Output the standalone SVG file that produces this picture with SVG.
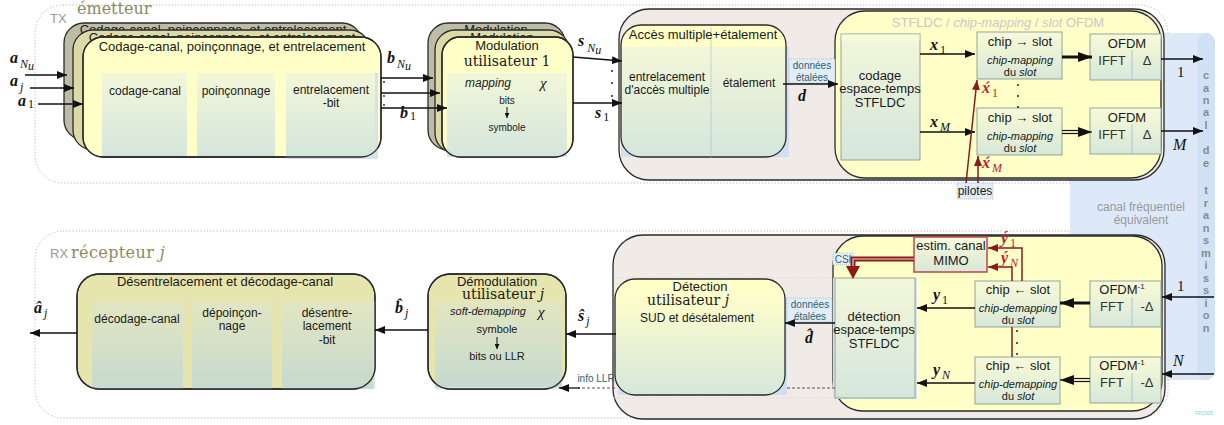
<svg xmlns="http://www.w3.org/2000/svg" width="1224" height="425" viewBox="0 0 1224 425">
<defs>
<style>
.t{font-family:"Liberation Sans",Arial,sans-serif;fill:#1a1a1a;text-anchor:middle}
.f13{font-size:13px}.f12{font-size:12px}.f11{font-size:11px}.f10{font-size:10px}
.i{font-style:italic}
.ser{font-family:"DejaVu Serif",serif;fill:#1a1a1a;text-anchor:middle;font-size:14px}
.mv{font-family:"Liberation Serif",serif;font-style:italic;font-weight:bold;font-size:16px;fill:#111}
.ms{font-family:"Liberation Serif",serif;font-style:italic;font-size:12px;font-weight:normal}
.mn{font-family:"Liberation Serif",serif;font-style:normal;font-size:12px;font-weight:normal}
.red{fill:#c0202a}
.zone{fill:none;stroke:#b8b8b8;stroke-width:1;stroke-dasharray:1.2 2}
.box{stroke:#2a2a2a;stroke-width:1.3}
.yel{fill:#ffffc8}.tan{fill:#dcdaa6}.gry{fill:#bdbca6}.tanr{fill:#e7e5ae}
.pan{fill:url(#pg)}.panr{fill:url(#rg)}
.sub{stroke:#93a596;stroke-width:1}
.ln{fill:none;stroke:#111;stroke-width:1.3}
.rl{fill:none;stroke:#8b1a1a;stroke-width:1.5}
.tag{fill:#e2edf8;stroke:#9fb6cc;stroke-width:0.8;stroke-dasharray:1 1}
.teal{fill:#2a6670}
.dot{fill:#222}
.div{stroke:#a8c4dc;stroke-width:1}
.bt{font-family:"Liberation Sans",Arial,sans-serif;font-weight:bold;font-size:11px;fill:#8a8a8a;text-anchor:middle}
.lbl{font-family:"DejaVu Serif",serif;font-size:16px;fill:#8a8a5e}
</style>
<linearGradient id="pg" x1="0" y1="0" x2="0" y2="1"><stop offset="0" stop-color="#f3f7d9"/><stop offset="1" stop-color="#d4e6dc"/></linearGradient>
<linearGradient id="rg" x1="0" y1="0" x2="0" y2="1"><stop offset="0" stop-color="#e2e6c1"/><stop offset="1" stop-color="#c6dacf"/></linearGradient>
<linearGradient id="ag" x1="0" y1="0" x2="0" y2="1"><stop offset="0" stop-color="#ffffc8"/><stop offset="0.16" stop-color="#ffffc8"/><stop offset="0.17" stop-color="#f3f7d7"/><stop offset="1" stop-color="#d4e6dc"/></linearGradient>
<linearGradient id="dg" x1="0" y1="0" x2="0" y2="1"><stop offset="0" stop-color="#ffffc8"/><stop offset="0.2" stop-color="#fbfccb"/><stop offset="1" stop-color="#d6e7dc"/></linearGradient>
<linearGradient id="cg" x1="0" y1="0" x2="0" y2="1"><stop offset="0" stop-color="#f7fadc"/><stop offset="0.3" stop-color="#eff5d6"/><stop offset="1" stop-color="#d6e7db"/></linearGradient>
<marker id="ah" markerWidth="10" markerHeight="8" refX="10" refY="4" orient="auto" markerUnits="userSpaceOnUse"><path d="M0,0 L10,4 L0,8 Z" fill="#111"/></marker>
<marker id="ahb" markerWidth="14" markerHeight="10" refX="14" refY="5" orient="auto" markerUnits="userSpaceOnUse"><path d="M0,0 L14,5 L0,10 Z" fill="#111"/></marker>
<marker id="ahs" markerWidth="5" markerHeight="5" refX="5" refY="2.5" orient="auto" markerUnits="userSpaceOnUse"><path d="M0,0 L5,2.5 L0,5 Z" fill="#111"/></marker>
<marker id="ahr" markerWidth="10" markerHeight="8" refX="10" refY="4" orient="auto" markerUnits="userSpaceOnUse"><path d="M0,0 L10,4 L0,8 Z" fill="#8b1a1a"/></marker>
</defs>
<rect width="1224" height="425" fill="#ffffff"/>

<!-- zones -->
<g id="zone-tx">
<rect class="zone" x="35" y="5" width="1133" height="178" rx="28"/>
<text class="t f13" x="50" y="23" style="text-anchor:start;fill:#999">TX</text>
<text class="lbl" x="77" y="14">émetteur</text>
</g>
<g id="zone-rx">
<rect class="zone" x="35" y="231" width="1133" height="187" rx="28"/>
<text class="t f13" x="50" y="258" style="text-anchor:start;fill:#999">RX</text>
<text class="lbl" x="71" y="258" style="letter-spacing:0.4px">récepteur <tspan font-style="italic">j</tspan></text>
</g>

<!-- channel -->
<g id="canal">
<rect x="1070" y="33" width="140" height="347" fill="#dde9f9"/>
<rect x="1197" y="33" width="18" height="347" rx="9" fill="#d2e2f6"/>
<text class="t f12" x="1141" y="211" style="fill:#999">canal fréquentiel</text>
<text class="t f12" x="1141" y="224" style="fill:#999">équivalent</text>
<text class="bt" x="1206" y="79">c</text><text class="bt" x="1206" y="92">a</text><text class="bt" x="1206" y="104">n</text><text class="bt" x="1206" y="116">a</text><text class="bt" x="1206" y="129">l</text>
<text class="bt" x="1206" y="154">d</text><text class="bt" x="1206" y="167">e</text>
<text class="bt" x="1206" y="194">t</text><text class="bt" x="1206" y="207">r</text><text class="bt" x="1206" y="219">a</text><text class="bt" x="1206" y="232">n</text><text class="bt" x="1206" y="244">s</text><text class="bt" x="1206" y="257">m</text><text class="bt" x="1206" y="269">i</text><text class="bt" x="1206" y="282">s</text><text class="bt" x="1206" y="294">s</text><text class="bt" x="1206" y="307">i</text><text class="bt" x="1206" y="319">o</text><text class="bt" x="1206" y="332">n</text>
</g>

<!-- TX: codage stack -->
<g id="codage-canal-tx">
<rect class="box gry" x="64" y="23" width="298" height="117" rx="20"/>
<text class="t f13" x="213" y="34">Codage-canal, poinçonnage, et entrelacement</text>
<rect class="box tan" x="73" y="30" width="297" height="120" rx="20"/>
<text class="t f13" x="222" y="42">Codage-canal, poinçonnage, et entrelacement</text>
<rect class="box yel" x="83" y="37" width="298" height="120" rx="20"/>
<text class="t f13" x="232" y="51">Codage-canal, poinçonnage, et entrelacement</text>
<rect x="286" y="73" width="92" height="86" fill="#d3e3f1"/>
<rect class="pan" x="102" y="73" width="85" height="83"/>
<rect class="pan" x="197" y="73" width="78" height="83"/>
<rect class="pan" x="286" y="73" width="89" height="83"/>
<rect class="box" x="83" y="37" width="298" height="120" rx="20" fill="none"/>
<text class="t f12" x="145" y="95">codage-canal</text>
<text class="t f12" x="236" y="95">poinçonnage</text>
<text class="t f12" x="331" y="94">entrelacement</text>
<text class="t f12" x="331" y="107">-bit</text>
</g>

<!-- TX: modulation stack -->
<g id="modulation">
<rect class="box gry" x="428" y="23" width="137" height="127" rx="20"/>
<text class="t f13" x="496" y="34">Modulation</text>
<rect class="box tan" x="435" y="30" width="134" height="123" rx="20"/>
<text class="t f13" x="502" y="42">Modulation</text>
<rect class="box yel" x="442" y="37" width="131" height="120" rx="18"/>
<rect x="447" y="73" width="120" height="84" fill="#d3e3f1"/>
<rect class="pan" x="447" y="73" width="120" height="82"/>
<rect class="box" x="442" y="37" width="131" height="120" rx="18" fill="none"/>
<text class="t f13" x="507" y="50">Modulation</text>
<text class="ser" x="507" y="66">utilisateur 1</text>
<text class="t f12 i" x="488" y="87">mapping</text>
<text x="540" y="88" style="font-family:'Liberation Serif',serif;font-style:italic;font-size:15px;fill:#111">χ</text>
<text class="t f10" x="507" y="104">bits</text>
<line x1="507" y1="107" x2="507" y2="118" stroke="#111" stroke-width="1" marker-end="url(#ahs)"/>
<text class="t f10" x="507" y="131">symbole</text>
</g>

<!-- TX: accès group -->
<g id="acces-multiple">
<rect class="box" x="619" y="9" width="545" height="171" rx="30" fill="#f0ebe7"/>
<rect x="621" y="47" width="168" height="110" fill="#d0e0f0"/>
<rect class="box" x="621" y="25" width="165" height="132" rx="20" fill="url(#ag)"/>
<line x1="711" y1="28" x2="711" y2="158" stroke="#9ab2cc" stroke-width="1" stroke-dasharray="1.2 1.2"/>
<text class="t f13" x="703" y="39">Accès multiple+étalement</text>
<text class="t f12" x="667" y="81">entrelacement</text>
<text class="t f12" x="667" y="94">d'accès multiple</text>
<text class="t f12" x="749" y="87">étalement</text>
</g>

<!-- TX: STFLDC / chip-mapping / slot OFDM -->
<g id="stfldc-tx">
<rect class="box" x="835" y="11" width="326" height="167" rx="30" fill="#ffffc8" stroke-width="1.6"/>
<text class="t f13" x="998" y="27" style="fill:#c8c8c8">STFLDC / <tspan font-style="italic">chip-mapping</tspan> / <tspan font-style="italic">slot</tspan> OFDM</text>
</g>
<g id="codage-stfldc">
<rect class="pan sub" x="841" y="34" width="79" height="126"/>
<rect x="841.5" y="34.5" width="78" height="6" fill="#f8fadc"/>
<text class="t f13" x="880" y="80">codage</text>
<text class="t f13" x="880" y="93">espace-temps</text>
<text class="t f13" x="880" y="107">STFLDC</text>
</g>
<g id="chip-mapping-1">
<rect class="sub" x="977" y="32" width="85" height="47" fill="url(#cg)"/>
<text class="t f13" x="1020" y="46">chip → slot</text>
<text class="t f11 i" x="1020" y="64">chip-mapping</text>
<text class="t f11" x="1020" y="76">du <tspan font-style="italic">slot</tspan></text>
</g>
<g id="chip-mapping-M">
<rect class="sub" x="977" y="108" width="85" height="47" fill="url(#cg)"/>
<text class="t f13" x="1020" y="122">chip → slot</text>
<text class="t f11 i" x="1020" y="140">chip-mapping</text>
<text class="t f11" x="1020" y="152">du <tspan font-style="italic">slot</tspan></text>
</g>
<g id="ofdm-1">
<rect class="sub" x="1090" y="34" width="71" height="46" fill="url(#cg)"/>
<line class="div" x1="1132" y1="50" x2="1132" y2="80"/>
<text class="t f13" x="1127" y="48">OFDM</text>
<text class="t f13" x="1112" y="65" style="fill:#333">IFFT</text>
<text class="t f13" x="1147" y="65" style="fill:#333">Δ</text>
</g>
<g id="ofdm-M">
<rect class="sub" x="1090" y="108" width="71" height="46" fill="url(#cg)"/>
<line class="div" x1="1132" y1="124" x2="1132" y2="154"/>
<text class="t f13" x="1127" y="122">OFDM</text>
<text class="t f13" x="1112" y="139" style="fill:#333">IFFT</text>
<text class="t f13" x="1147" y="139" style="fill:#333">Δ</text>
</g>
<g id="pilotes">
<rect class="tag" x="957" y="183" width="36" height="16"/>
<text class="t f12" x="975" y="195">pilotes</text>
</g>

<!-- RX: désentrelacement -->
<g id="decodage-rx">
<rect class="box tanr" x="77" y="274" width="298" height="115" rx="22"/>
<rect x="282" y="301" width="93" height="88" fill="#d3e3f1"/>
<rect class="panr" x="92" y="301" width="91" height="88"/>
<rect class="panr" x="192" y="301" width="80" height="88"/>
<rect class="panr" x="282" y="301" width="91" height="88"/>
<rect class="box" x="77" y="274" width="298" height="115" rx="22" fill="none"/>
<text class="t f13" x="225" y="286">Désentrelacement et décodage-canal</text>
<text class="t f12" x="137" y="323">décodage-canal</text>
<text class="t f12" x="232" y="317">dépoinçon-</text>
<text class="t f12" x="232" y="330">nage</text>
<text class="t f12" x="327" y="317">désentre-</text>
<text class="t f12" x="327" y="330">lacement</text>
<text class="t f12" x="327" y="344">-bit</text>
</g>

<!-- RX: démodulation -->
<g id="demodulation">
<rect class="box tanr" x="428" y="274" width="138" height="115" rx="22"/>
<rect x="435" y="301" width="127" height="88" fill="#d3e3f1"/>
<rect class="panr" x="435" y="301" width="127" height="86"/>
<rect class="box" x="428" y="274" width="138" height="115" rx="22" fill="none"/>
<text class="t f13" x="497" y="286">Démodulation</text>
<text class="ser" x="503" y="299">utilisateur <tspan font-style="italic">j</tspan></text>
<text class="t f11 i" x="488" y="315">soft-demapping</text>
<text x="538" y="317" style="font-family:'Liberation Serif',serif;font-style:italic;font-size:15px;fill:#111">χ</text>
<text class="t f11" x="497" y="333">symbole</text>
<line x1="497" y1="337" x2="497" y2="349" stroke="#111" stroke-width="1" marker-end="url(#ahs)"/>
<text class="t f11" x="497" y="360">bits ou LLR</text>
</g>

<!-- RX: détection group -->
<g id="detection-mu">
<rect class="box" x="613" y="235" width="552" height="184" rx="30" fill="#f0ebe7"/>
<line x1="614" y1="278" x2="836" y2="278" stroke="#cfcfcf" stroke-width="1" stroke-dasharray="1 2"/>
<line x1="614" y1="398" x2="836" y2="398" stroke="#cfcfcf" stroke-width="1" stroke-dasharray="1 2"/>
<rect x="618" y="297" width="169" height="98" fill="#d0e0f0"/>
<rect class="box" x="615" y="279" width="170" height="116" rx="20" fill="url(#dg)"/>
<text class="t f13" x="700" y="291">Détection</text>
<text class="ser" x="688" y="305">utilisateur <tspan font-style="italic">j</tspan></text>
<text class="t f12" x="697" y="322">SUD et désétalement</text>
</g>
<g id="stfldc-rx">
<rect class="box" x="833" y="236" width="329" height="175" rx="30" fill="#ffffc8" stroke-width="1.6"/>
</g>
<g id="detection-stfldc">
<rect x="833" y="278" width="84" height="121" fill="#d3e3f1"/>
<rect class="pan sub" x="835" y="278" width="80" height="120"/>
<text class="t f13" x="874" y="321">détection</text>
<text class="t f13" x="874" y="334">espace-temps</text>
<text class="t f13" x="874" y="348">STFLDC</text>
</g>
<g id="estim-canal">
<rect x="914" y="237" width="73" height="35" fill="url(#cg)" stroke="#c04848" stroke-width="1.5"/>
<text class="t f13" x="951" y="250">estim. canal</text>
<text class="t f13" x="951" y="265">MIMO</text>
</g>
<g id="chip-demapping-1">
<rect class="sub" x="975" y="281" width="85" height="46" fill="url(#cg)"/>
<text class="t f13" x="1018" y="294">chip ← slot</text>
<text class="t f11 i" x="1018" y="312">chip-demapping</text>
<text class="t f11" x="1018" y="324">du <tspan font-style="italic">slot</tspan></text>
</g>
<g id="chip-demapping-N">
<rect class="sub" x="975" y="357" width="85" height="47" fill="url(#cg)"/>
<text class="t f13" x="1018" y="370">chip ← slot</text>
<text class="t f11 i" x="1018" y="388">chip-demapping</text>
<text class="t f11" x="1018" y="400">du <tspan font-style="italic">slot</tspan></text>
</g>
<g id="ofdm-inv-1">
<rect class="sub" x="1090" y="281" width="71" height="46" fill="url(#cg)"/>
<line class="div" x1="1132" y1="297" x2="1132" y2="327"/>
<text class="t f13" x="1122" y="294">OFDM<tspan font-size="8" dy="-5">-1</tspan></text>
<text class="t f13" x="1112" y="311" style="fill:#333">FFT</text>
<text class="t f13" x="1147" y="311" style="fill:#333">-Δ</text>
</g>
<g id="ofdm-inv-N">
<rect class="sub" x="1090" y="357" width="71" height="46" fill="url(#cg)"/>
<line class="div" x1="1132" y1="373" x2="1132" y2="403"/>
<text class="t f13" x="1122" y="370">OFDM<tspan font-size="8" dy="-5">-1</tspan></text>
<text class="t f13" x="1112" y="387" style="fill:#333">FFT</text>
<text class="t f13" x="1147" y="387" style="fill:#333">-Δ</text>
</g>
<g id="tags">
<rect class="tag" x="789" y="59" width="46" height="24"/>
<text class="t f10 teal" x="812" y="69">données</text>
<text class="t f10 teal" x="812" y="81">étalées</text>
<rect class="tag" x="787" y="298" width="45" height="24"/>
<text class="t f10 teal" x="810" y="308">données</text>
<text class="t f10 teal" x="810" y="320">étalées</text>
<rect class="tag" x="833" y="253" width="20" height="12"/>
<text class="t f10 teal" x="843" y="263">CSI</text>
<text class="t f10 teal" x="596" y="382">info LLR</text>
<text x="1204" y="415" style="font-family:'Liberation Sans',sans-serif;font-size:5px;fill:#5fd8e0;text-anchor:middle">FP2005</text>
</g>

<!-- connectors -->
<g id="connectors">
<line class="ln" x1="25" y1="75" x2="67" y2="75" marker-end="url(#ah)"/>
<line class="ln" x1="30" y1="88" x2="74" y2="88" marker-end="url(#ah)"/>
<line class="ln" x1="38" y1="104" x2="83" y2="104" marker-end="url(#ah)"/>
<line class="ln" x1="381" y1="78" x2="433" y2="78" marker-end="url(#ah)"/>
<line class="ln" x1="381" y1="93" x2="440" y2="93" marker-end="url(#ah)"/>
<line class="ln" x1="381" y1="108" x2="447" y2="108" marker-end="url(#ah)"/>
<circle class="dot" cx="384" cy="82" r="0.9"/><circle class="dot" cx="384" cy="96" r="0.9"/><circle class="dot" cx="384" cy="105" r="0.9"/>
<line class="ln" x1="573" y1="57" x2="622" y2="61" marker-end="url(#ah)"/>
<line class="ln" x1="573" y1="103" x2="622" y2="103" marker-end="url(#ah)"/>
<circle class="dot" cx="612" cy="71" r="1"/><circle class="dot" cx="612" cy="83" r="1"/><circle class="dot" cx="612" cy="96" r="1"/>
<line class="ln" x1="783" y1="84" x2="838" y2="84" marker-end="url(#ah)"/>
<line class="ln" x1="920" y1="54" x2="975" y2="54" marker-end="url(#ah)"/>
<line class="ln" x1="920" y1="132" x2="975" y2="132" marker-end="url(#ah)"/>
<circle class="dot" cx="1018" cy="85" r="1"/><circle class="dot" cx="1018" cy="96" r="1"/><circle class="dot" cx="1018" cy="107" r="1"/>
<line x1="1062" y1="57" x2="1092" y2="57" stroke="#111" stroke-width="3" marker-end="url(#ahb)"/>
<line x1="1062" y1="130.5" x2="1080" y2="130.5" stroke="#111" stroke-width="1.2"/>
<line x1="1062" y1="133.5" x2="1080" y2="133.5" stroke="#111" stroke-width="1.2"/>
<line x1="1078" y1="132" x2="1092" y2="132" stroke="#111" stroke-width="1" marker-end="url(#ahb)"/>
<line class="ln" x1="1161" y1="59" x2="1203" y2="59" marker-end="url(#ah)"/>
<line class="ln" x1="1161" y1="131" x2="1203" y2="131" marker-end="url(#ah)"/>
<line class="rl" x1="966" y1="183" x2="977" y2="80" marker-end="url(#ahr)"/>
<line class="rl" x1="978" y1="183" x2="978" y2="156" marker-end="url(#ahr)"/>

<line class="ln" x1="1214" y1="297" x2="1162" y2="297" marker-end="url(#ah)"/>
<line class="ln" x1="1214" y1="374" x2="1162" y2="374" marker-end="url(#ah)"/>
<line x1="1090" y1="303" x2="1060" y2="303" stroke="#111" stroke-width="3" marker-end="url(#ahb)"/>
<line x1="1090" y1="378.5" x2="1072" y2="378.5" stroke="#111" stroke-width="1.2"/>
<line x1="1090" y1="381.5" x2="1072" y2="381.5" stroke="#111" stroke-width="1.2"/>
<line x1="1074" y1="380" x2="1060" y2="380" stroke="#111" stroke-width="1" marker-end="url(#ahb)"/>
<line class="ln" x1="975" y1="308" x2="917" y2="308" marker-end="url(#ah)"/>
<line class="ln" x1="975" y1="383" x2="917" y2="383" marker-end="url(#ah)"/>
<circle class="dot" cx="1017" cy="331" r="1"/><circle class="dot" cx="1017" cy="343" r="1"/><circle class="dot" cx="1017" cy="354" r="1"/>
<path class="rl" d="M1022,281 V248 H988" marker-end="url(#ahr)"/>
<path class="rl" d="M1012,357 V327"/>
<path class="rl" d="M1012,281 V267 H988" marker-end="url(#ahr)"/>
<path d="M914,259 H853 V268" fill="none" stroke="#8b1a1a" stroke-width="5"/>
<path d="M914,259 H853 V268" fill="none" stroke="#d89a9a" stroke-width="1.6"/>
<path d="M846,266 L860,266 L853,279 Z" fill="#8b1a1a"/>
<line class="ln" x1="835" y1="323" x2="785" y2="323" marker-end="url(#ah)"/>
<line x1="835" y1="388" x2="785" y2="388" stroke="#555" stroke-width="1" stroke-dasharray="3 2"/>
<line x1="615" y1="388" x2="578" y2="388" stroke="#555" stroke-width="1" stroke-dasharray="3 2"/>
<line class="ln" x1="580" y1="388" x2="559" y2="388" marker-end="url(#ah)"/>
<line class="ln" x1="616" y1="334" x2="566" y2="334" marker-end="url(#ah)"/>
<line class="ln" x1="428" y1="330" x2="375" y2="330" marker-end="url(#ah)"/>
<line class="ln" x1="77" y1="333" x2="30" y2="333" marker-end="url(#ah)"/>
</g>

<!-- math labels -->
<g id="labels">
<text class="mv" x="10" y="63">a<tspan class="ms" dx="2" dy="5">N</tspan><tspan class="ms" font-size="9" dy="2">u</tspan></text>
<text class="mv" x="10" y="86">a<tspan class="ms" dx="2" dy="5">j</tspan></text>
<text class="mv" x="18" y="106">a<tspan class="mn" dx="2" dy="2">1</tspan></text>
<text class="mv" x="387" y="63">b<tspan class="ms" dx="2" dy="5">N</tspan><tspan class="ms" font-size="9" dy="2">u</tspan></text>
<text class="mv" x="400" y="118">b<tspan class="mn" dx="2" dy="2">1</tspan></text>
<text class="mv" x="578" y="46">s<tspan class="ms" dx="3" dy="6">N</tspan><tspan class="ms" font-size="9" dy="2">u</tspan></text>
<text class="mv" x="595" y="118">s<tspan class="mn" dx="2" dy="3">1</tspan></text>
<text class="mv" x="798" y="101">d</text>
<text class="mv" x="930" y="50">x<tspan class="mn" dx="2" dy="4">1</tspan></text>
<text class="mv" x="930" y="127">x<tspan class="ms" dx="2" dy="4">M</tspan></text>
<text class="mv red" x="982" y="93">x́<tspan class="mn" dx="2" dy="4">1</tspan></text>
<text class="mv red" x="982" y="168">x́<tspan class="ms" dx="2" dy="4">M</tspan></text>
<text x="1177" y="77" style="font-family:'Liberation Serif',serif;font-size:15px;fill:#111">1</text>
<text x="1173" y="150" style="font-family:'Liberation Serif',serif;font-style:italic;font-size:16px;fill:#111">M</text>
<text x="1177" y="291" style="font-family:'Liberation Serif',serif;font-size:15px;fill:#111">1</text>
<text x="1173" y="366" style="font-family:'Liberation Serif',serif;font-style:italic;font-size:16px;fill:#111">N</text>
<text class="mv red" x="1001" y="243">ý<tspan class="mn" dx="2" dy="4">1</tspan></text>
<text class="mv red" x="1001" y="263">ý<tspan class="ms" dx="2" dy="4">N</tspan></text>
<text class="mv" x="933" y="300">y<tspan class="mn" dx="2" dy="4">1</tspan></text>
<text class="mv" x="933" y="375">y<tspan class="ms" dx="2" dy="4">N</tspan></text>
<text class="mv" x="805" y="343">d̂</text>
<text class="mv" x="578" y="321">ŝ<tspan class="ms" dx="2" dy="4">j</tspan></text>
<text class="mv" x="395" y="313">b̂<tspan class="ms" dx="2" dy="4">j</tspan></text>
<text class="mv" x="34" y="313">â<tspan class="ms" dx="2" dy="4">j</tspan></text>
</g>
</svg>
